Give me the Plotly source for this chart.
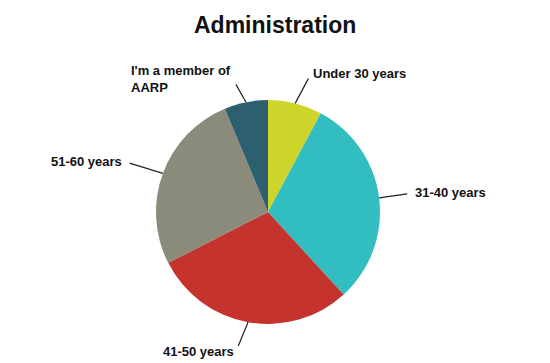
import math
import plotly.graph_objects as go

# Data
categories = ["Under 30 years", "31-40 years", "41-50 years", "51-60 years", "I'm a member of<br>AARP"]
values = [7.8, 30.4, 29.3, 26.2, 6.3]
colors = ["#CDD52A", "#32BEC0", "#C4342C", "#8A8B7A", "#2D5F6E"]

W, H = 550, 363
cx, cy, r = 268, 212, 112  # pie geometry in pixels (layout)

dom_x = [(cx - r) / W, (cx + r) / W]
dom_y = [(H - cy - r) / H, (H - cy + r) / H]

fig = go.Figure(go.Pie(
    labels=categories, values=values, sort=False, direction="clockwise",
    rotation=0, textinfo="none", hoverinfo="label+percent",
    marker=dict(colors=colors, line=dict(width=0)),
    domain=dict(x=dom_x, y=dom_y), showlegend=False,
))

# label offsets (pixels) and anchors — layout styling
offsets = [(16, -30, "left"), (34, -5, "left"), (-12, 29, "right"), (-39, -12, "right"), (-13, -23, "right")]

total = sum(values)
cum = 0
annotations = []
for cat, v, (ax, ay, xa) in zip(categories, values, offsets):
    mid = (cum + v / 2) / total * 2 * math.pi
    cum += v
    px = cx + r * math.sin(mid)
    py = cy - r * math.cos(mid)
    annotations.append(dict(
        x=px / W, y=1 - py / H, xref="paper", yref="paper",
        text="<b>" + cat + "</b>", showarrow=True, arrowhead=0, arrowwidth=1.2, arrowcolor="#222222",
        ax=ax, ay=ay, xanchor=xa, yanchor="middle", align="left",
        font=dict(family="Liberation Sans, Arial, sans-serif", size=13, color="#111111"),
        borderpad=1, startstandoff=6,
    ))

annotations.append(dict(
    x=0.5, y=1 - 25 / H, xref="paper", yref="paper", showarrow=False,
    text="<b>Administration</b>", xanchor="center", yanchor="middle",
    font=dict(family="Liberation Sans, Arial, sans-serif", size=23, color="#111111"),
))

fig.update_layout(
    width=W, height=H, margin=dict(l=0, r=0, t=0, b=0),
    paper_bgcolor="white", plot_bgcolor="white",
    annotations=annotations,
)

fig.write_html("out.html", config={"displayModeBar": False},
               post_script="document.body.style.margin='0';document.body.style.overflow='hidden';")
